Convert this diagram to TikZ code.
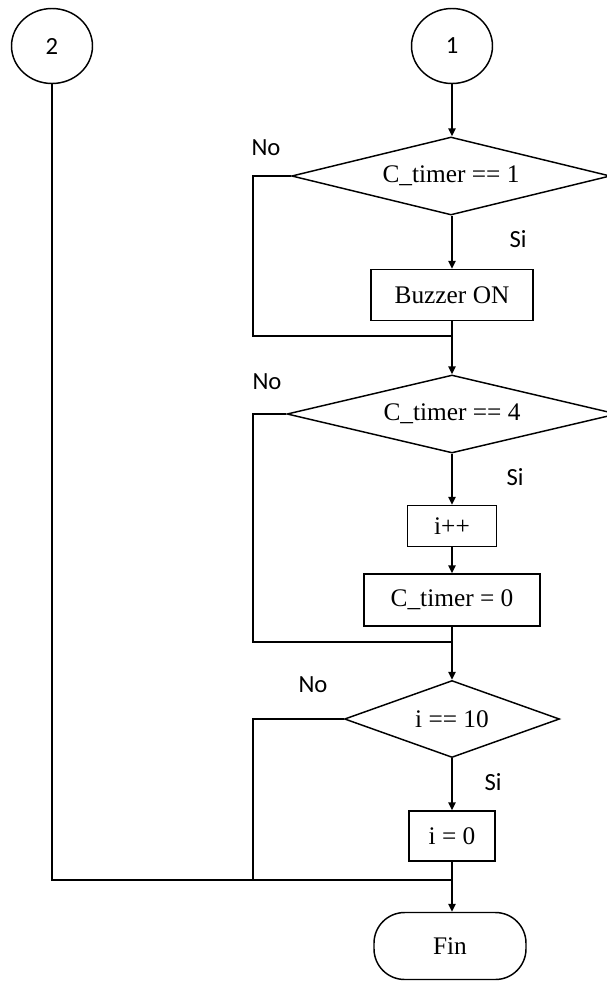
\documentclass[tikz,border=0pt]{standalone}
\usepackage{fontspec}
\setmainfont{Liberation Serif}
\newfontfamily\labelfont{Carlito}
\usetikzlibrary{shapes.geometric,arrows.meta}

\begin{document}
\begin{tikzpicture}[x=0.75pt,y=-0.75pt,line width=1.1pt,
  conn node/.style={ellipse,draw,inner sep=0pt,minimum width=60.75pt,minimum height=56.25pt,font=\labelfont\fontsize{18.5}{22}\selectfont},
  cond node/.style={diamond,draw,inner sep=0pt,aspect=4,font=\fontsize{19}{22}\selectfont},
  proc node/.style={rectangle,draw,inner sep=0pt,font=\fontsize{19}{22}\selectfont},
  end node/.style={rectangle,rounded corners=23pt,draw,inner sep=0pt,minimum width=114pt,minimum height=50.25pt,font=\fontsize{19}{22}\selectfont},
  lbl/.style={font=\labelfont\fontsize{18.5}{22}\selectfont,inner sep=0pt},
  flow/.style={-{Triangle[length=6pt,width=5.5pt]}}]

  \useasboundingbox (0,0) rectangle (607,982);

  % connectors
  \node[conn node] (c2) at (52,46){2};
  \node[conn node] (c1) at (452,46){1};

  % first test
  \node[cond node,minimum width=239pt,minimum height=58.5pt] (d1) at (451,176){C\_timer == 1};
  \node[proc node,minimum width=121.5pt,minimum height=38.25pt] (buz) at (452,295){Buzzer ON};
  \coordinate (m1) at (452,336);
  \coordinate (k1) at (253,336);

  % second test
  \node[cond node,minimum width=247.5pt,minimum height=58.5pt] (d2) at (452,414){C\_timer == 4};
  \node[proc node,minimum width=66.75pt,minimum height=30.75pt] (inc) at (452,526){i++};
  \node[proc node,minimum width=132pt,minimum height=39pt] (rst) at (452,600){C\_timer = 0};
  \coordinate (m2) at (452,642);
  \coordinate (k2) at (253,642);

  % third test
  \node[cond node,aspect=2.8,minimum width=161.25pt,minimum height=57.75pt] (d3) at (452,719){i == 10};
  \node[proc node,minimum width=64.5pt,minimum height=37.5pt] (izero) at (452,836){i = 0};
  \coordinate (m3) at (452,880);
  \coordinate (k3) at (253,880);

  \node[end node] (fin) at (450,946){Fin};

  % labels
  \node[lbl] (no1) at (266,148){No};
  \node[lbl] (si1) at (518,239){Si};
  \node[lbl] (no2) at (267,382){No};
  \node[lbl] (si2) at (515,477){Si};
  \node[lbl] (no3) at (313,685){No};
  \node[lbl] (si3) at (493,782){Si};

  \path[flow]
    (c1) edge (c1 |- d1.north)
    (d1.south -| c1) edge (buz)
    (m1) edge (d2)
    (d2) edge (inc)
    (inc) edge (rst)
    (m2) edge (d3)
    (d3) edge (izero)
    (m3) edge (fin.north -| m3);

  \draw (buz) -- (m1);
  \draw (d1.west) -| (k1) -- (m1);
  \draw (rst) -- (m2);
  \draw (d2.west) -| (k2) -- (m2);
  \draw (izero) -- (m3);
  \draw (d3.west) -| (k3) -- (m3);
  \draw (c2.south) |- (m3);
\end{tikzpicture}
\end{document}
